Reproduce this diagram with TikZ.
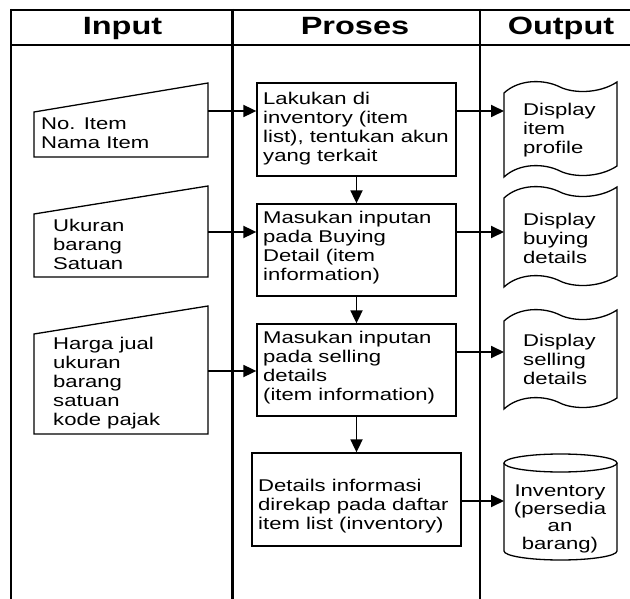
\documentclass[tikz,border=0pt]{standalone}
\usepackage{fontspec}
\setmainfont{Liberation Sans}[FakeStretch=1.3]
\usetikzlibrary{arrows.meta}
\begin{document}
\begin{tikzpicture}[x=1pt,y=-1pt,
  grid/.style={line width=2.2pt},
  head/.style={font=\fontsize{25}{28}\selectfont\bfseries, inner sep=0, anchor=base},
  txt/.style={font=\fontsize{17}{19}\selectfont, align=left, inner sep=0, anchor=west},
  ctxt/.style={font=\fontsize{17}{17.5}\selectfont, align=center, inner sep=0},
  outline/.style={draw, line width=1.3pt},
  box/.style={outline, inner sep=0, minimum width=199pt, minimum height=93pt},
  flow/.style={line width=1.8pt, -{Triangle[length=13pt,width=12pt]}},
]
\useasboundingbox (0,0) rectangle (630,599);

% swimlane table
\draw[grid] (11,10) -- (630,10);
\draw[grid] (11,45) -- (630,45);
\draw[grid] (11,9) -- (11,599);
\draw[grid] (232.5,9) -- (232.5,599);
\draw[grid] (480,9) -- (480,599);
\node[head] (hin)  at (122.5,34.5) {Input};
\node[head] (hpro) at (355,34.5) {Proses};
\node[head] (hout) at (561,34.5) {Output};

% manual input shapes
\draw[outline] (34,157) -- (34,112) -- (208,83) -- (208,157) -- cycle;
\draw[outline] (34,277) -- (34,214) -- (208,186) -- (208,277) -- cycle;
\draw[outline] (34,434) -- (34,334) -- (208,306) -- (208,434) -- cycle;
\coordinate (in1e) at (208,111);
\coordinate (in2e) at (208,232);
\coordinate (in3e) at (208,371);
\node[txt] (in1t) at (41,133.5) {No. Item\\Nama Item};
\node[txt] (in2t) at (53,244.5) {Ukuran\\barang\\Satuan};
\node[txt] (in3t) at (53,383) {Harga jual\\ukuran\\barang\\satuan\\kode pajak};

% process steps
\node[box] (p1) at (356.5,129.5) {};
\node[box, minimum height=92pt] (p2) at (356.5,250) {};
\node[box, minimum height=92pt] (p3) at (356.5,370) {};
\node[box, minimum width=209pt] (p4) at (356.5,499.5) {};
\node[txt] (p1t) at (263,129) {Lakukan di\\inventory (item\\list), tentukan akun\\yang terkait};
\node[txt] (p2t) at (263,248) {Masukan inputan\\pada Buying\\Detail (item\\information)};
\node[txt] (p3t) at (263,368) {Masukan inputan\\pada selling\\details\\(item information)};
\node[txt] (p4t) at (258,506) {Details informasi\\direkap pada daftar\\item list (inventory)};

% punched-tape outputs: wavy top and bottom edges
\newcommand\tapeoutline[3]{%
  \begin{scope}[shift={(#1,#2)}]
    \draw[outline] (0,11) .. controls (15,-3) and (40,-3) .. (56,5)
      .. controls (68.8,11.4) and (95,12) .. (113,0)
      -- (113,#3) .. controls (95,12+#3) and (68.8,11.4+#3) .. (56,5+#3)
      .. controls (40,-3+#3) and (15,-3+#3) .. (0,11+#3) -- cycle;
  \end{scope}}
\tapeoutline{504}{82}{84}
\tapeoutline{504}{187}{89}
\tapeoutline{504}{310}{88}
\coordinate (o1w) at (504,111);
\coordinate (o2w) at (504,232);
\coordinate (o3w) at (504,352);
\node[txt] (o1t) at (523,130) {Display\\item\\profile};
\node[txt] (o2t) at (523,238) {Display\\buying\\details};
\node[txt] (o3t) at (523,359) {Display\\selling\\details};

% inventory data store
\draw[outline] (504,463) -- (504,551) arc[start angle=180, end angle=0, x radius=56.5, y radius=9] -- (617,463);
\draw[outline] (560.5,463) ellipse [x radius=56.5, y radius=9];
\coordinate (invw) at (504,501);
\node[ctxt] (invt) at (560,519) {Inventory\\(persedia\\an\\barang)};

% flow connectors
\draw[flow] (in1e) -- (p1.west |- in1e);
\draw[flow] (in2e) -- (p2.west |- in2e);
\draw[flow] (in3e) -- (p3.west |- in3e);
\draw[flow] (p1.east |- o1w) -- (o1w);
\draw[flow] (p2.east |- o2w) -- (o2w);
\draw[flow] (p3.east |- o3w) -- (o3w);
\draw[flow] (p4.east |- invw) -- (invw);
\draw[flow] (p1) -- (p2);
\draw[flow] (p2) -- (p3);
\draw[flow] (p3) -- (p4);
\end{tikzpicture}
\end{document}
